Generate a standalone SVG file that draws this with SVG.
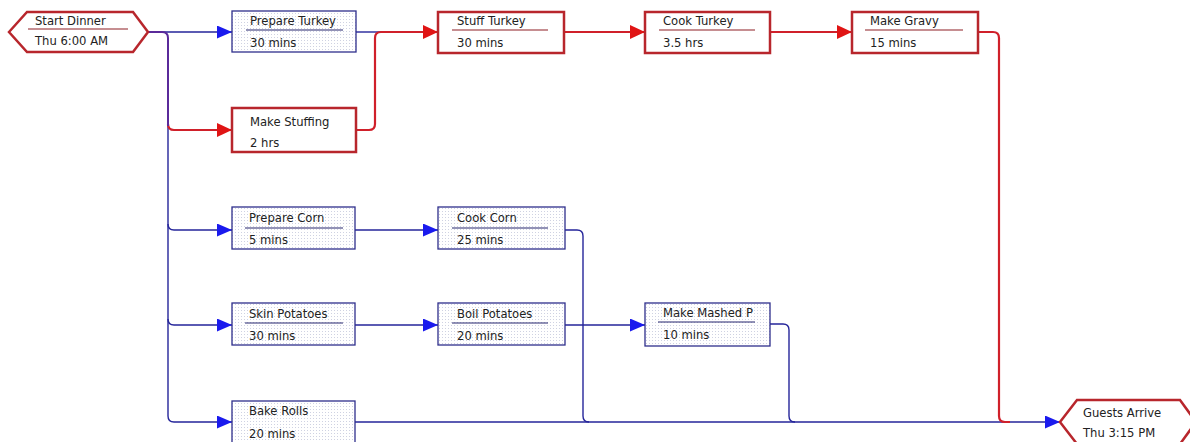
<svg xmlns="http://www.w3.org/2000/svg" width="1190" height="442" viewBox="0 0 1190 442">
<defs>
<pattern id="dots" width="3" height="3" patternUnits="userSpaceOnUse">
<rect width="3" height="3" fill="#ffffff"/>
<rect x="1" y="1" width="1" height="1" fill="#cfd2e2"/>
</pattern>
<marker id="ab" markerUnits="userSpaceOnUse" markerWidth="15" markerHeight="13" refX="15" refY="6.5" orient="auto">
<path d="M0,0 L15,6.5 L0,13 z" fill="#1a1aee"/>
</marker>
<marker id="ar" markerUnits="userSpaceOnUse" markerWidth="15" markerHeight="14" refX="15" refY="7" orient="auto">
<path d="M0,0 L15,7 L0,14 z" fill="#e01414"/>
</marker>
</defs>
<style>
text{font-family:"DejaVu Sans","Liberation Sans",sans-serif;font-size:11.6px;fill:#222;}
.bbox{fill:url(#dots);stroke:#2e2e8c;stroke-width:1.3;}
.rbox{fill:#ffffff;stroke:#b8262c;stroke-width:2.5;}
.bdiv{stroke:#26266e;stroke-width:1.2;}
.rdiv{stroke:#8e1e24;stroke-width:1.2;}
.bl{fill:none;stroke:#25259a;stroke-width:1.4;}
.rl{fill:none;stroke:#d0202a;stroke-width:2.2;}
.pl{fill:none;stroke:#5a2a9a;stroke-width:2;}
</style>
<g id="connectors">
<path class="bl" d="M168,38 V416 Q168,422 174,422 H232" marker-end="url(#ab)"/>
<path class="bl" d="M168,224 Q168,230 174,230 H232" marker-end="url(#ab)"/>
<path class="bl" d="M168,319 Q168,325 174,325 H232" marker-end="url(#ab)"/>
<path class="bl" d="M162,32 H232" marker-end="url(#ab)"/>
<path class="rl" d="M168,124 Q168,130 174,130 H232" marker-end="url(#ar)"/>
<path class="pl" d="M148,32 H162 Q168,32 168,38 V126"/>
<path class="bl" d="M356,32 H382"/>
<path class="rl" d="M356,130 H369 Q375,130 375,124 V38 Q375,32 381,32 H438" marker-end="url(#ar)"/>
<path class="rl" d="M564,32 H645" marker-end="url(#ar)"/>
<path class="rl" d="M770,32 H852" marker-end="url(#ar)"/>
<path class="bl" d="M355,230 H438" marker-end="url(#ab)"/>
<path class="bl" d="M565,230 H577 Q583,230 583,236 V416 Q583,422 589,422"/>
<path class="bl" d="M355,325 H438" marker-end="url(#ab)"/>
<path class="bl" d="M565,325 H645" marker-end="url(#ab)"/>
<path class="bl" d="M770,324 H783 Q789,324 789,330 V416 Q789,422 795,422"/>
<path class="bl" d="M355,422 H1060" marker-end="url(#ab)"/>
<path class="rl" d="M978,32 H993 Q999,32 999,38 V416 Q999,422 1005,422 H1010"/>
</g>
<g id="start-dinner">
<polygon points="9,32 27,12 133,12 148,32 133,52 27,52" fill="#ffffff" stroke="#b8262c" stroke-width="2.5"/>
<line class="rdiv" x1="28" y1="29" x2="128" y2="29"/>
<text x="35" y="25">Start Dinner</text>
<text x="35" y="45">Thu 6:00 AM</text>
</g>
<g id="prepare-turkey">
<rect class="bbox" x="232" y="11" width="124" height="41"/>
<line class="bdiv" x1="246" y1="30" x2="343" y2="30"/>
<text x="250" y="25">Prepare Turkey</text>
<text x="250" y="47">30 mins</text>
</g>
<g id="make-stuffing">
<rect class="rbox" x="232" y="108" width="124" height="44"/>
<text x="250" y="126">Make Stuffing</text>
<text x="250" y="147">2 hrs</text>
</g>
<g id="stuff-turkey">
<rect class="rbox" x="438" y="12" width="126" height="41"/>
<line class="rdiv" x1="452" y1="30" x2="548" y2="30"/>
<text x="457" y="25">Stuff Turkey</text>
<text x="457" y="47">30 mins</text>
</g>
<g id="cook-turkey">
<rect class="rbox" x="645" y="12" width="125" height="41"/>
<line class="rdiv" x1="659" y1="30" x2="755" y2="30"/>
<text x="663" y="25">Cook Turkey</text>
<text x="663" y="47">3.5 hrs</text>
</g>
<g id="make-gravy">
<rect class="rbox" x="852" y="12" width="126" height="41"/>
<line class="rdiv" x1="865" y1="30" x2="963" y2="30"/>
<text x="870" y="25">Make Gravy</text>
<text x="870" y="47">15 mins</text>
</g>
<g id="prepare-corn">
<rect class="bbox" x="232" y="207" width="123" height="42"/>
<line class="bdiv" x1="245" y1="228" x2="343" y2="228"/>
<text x="249" y="222">Prepare Corn</text>
<text x="249" y="244">5 mins</text>
</g>
<g id="cook-corn">
<rect class="bbox" x="438" y="207" width="127" height="42"/>
<line class="bdiv" x1="452" y1="228" x2="548" y2="228"/>
<text x="457" y="222">Cook Corn</text>
<text x="457" y="244">25 mins</text>
</g>
<g id="skin-potatoes">
<rect class="bbox" x="232" y="303" width="123" height="42"/>
<line class="bdiv" x1="245" y1="323" x2="343" y2="323"/>
<text x="249" y="318">Skin Potatoes</text>
<text x="249" y="340">30 mins</text>
</g>
<g id="boil-potatoes">
<rect class="bbox" x="438" y="303" width="127" height="42"/>
<line class="bdiv" x1="452" y1="323" x2="548" y2="323"/>
<text x="457" y="318">Boil Potatoes</text>
<text x="457" y="340">20 mins</text>
</g>
<g id="make-mashed">
<rect class="bbox" x="645" y="303" width="125" height="43"/>
<line class="bdiv" x1="658" y1="322" x2="755" y2="322"/>
<text x="663" y="317">Make Mashed P</text>
<text x="663" y="339">10 mins</text>
</g>
<g id="bake-rolls">
<rect class="bbox" x="232" y="401" width="123" height="44"/>
<text x="249" y="415">Bake Rolls</text>
<text x="249" y="438">20 mins</text>
</g>
<g id="guests-arrive">
<polygon points="1060,422 1077,400 1180,400 1196,422 1180,444 1077,444" fill="#ffffff" stroke="#b8262c" stroke-width="2.5"/>
<text x="1083" y="417">Guests Arrive</text>
<text x="1083" y="437">Thu 3:15 PM</text>
</g>
</svg>
